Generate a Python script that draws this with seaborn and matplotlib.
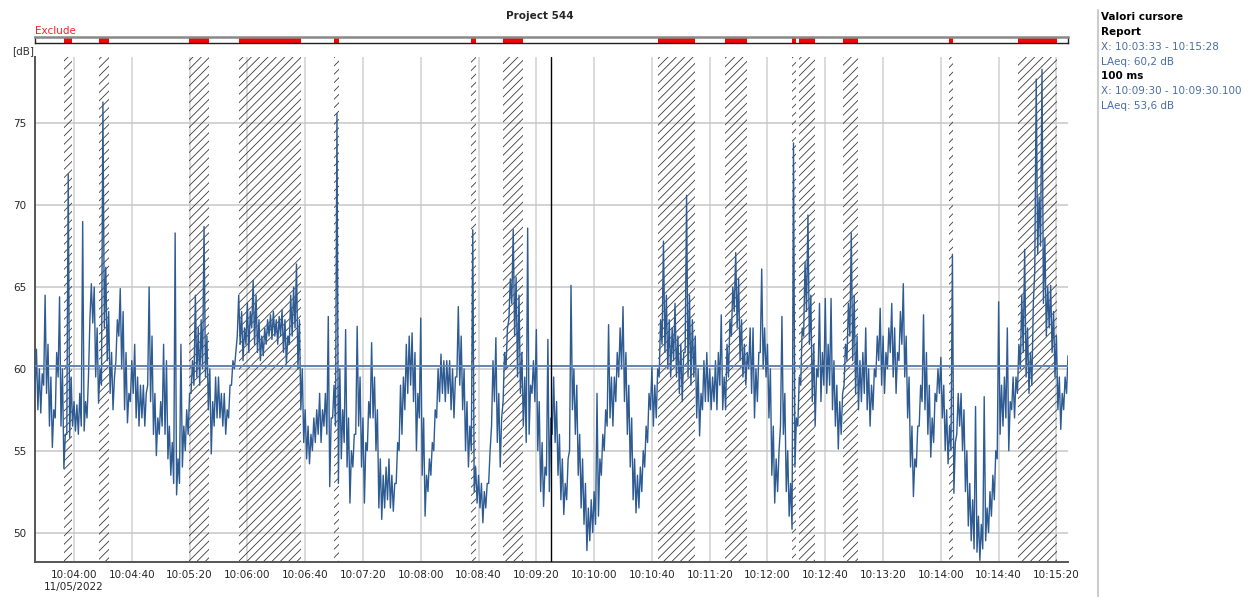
import numpy as np
import pandas as pd
import matplotlib
matplotlib.use("Agg")
import matplotlib.pyplot as plt
import seaborn as sns

# LAeq 100 ms trace, read off the chart as a low/high envelope every 2 s
# (seconds counted from 10:03:33)
sample_step = 2

lo_a = [58.5, 57.5, 57.3, 59.0, 58.5, 56.5, 55.2, 57.0, 59.5, 56.5,
        53.9, 56.0, 55.8, 56.5, 56.2, 56.0, 56.5, 56.2, 57.0, 63.0,
        62.8, 59.5, 57.9, 59.0, 62.5, 60.5, 58.5, 57.5, 60.5, 62.0,
        60.0, 57.5, 56.7, 58.0, 58.5, 57.0, 56.5, 57.0, 56.5, 59.0,
        58.0, 56.0, 54.7, 56.0, 56.5, 56.0, 54.5, 53.5, 53.0, 52.3,
        53.0, 54.0, 55.0, 56.0, 58.5, 59.0, 59.5, 59.0, 60.0, 59.5,
        57.5, 54.8, 56.5, 57.0, 57.0, 56.5, 56.0, 57.0, 59.0, 60.0,
        62.0, 61.5, 60.5]
hi_a = [61.2, 60.0, 59.7, 64.5, 61.5, 59.5, 57.5, 61.0, 64.4, 60.0,
        56.0, 71.9, 59.5, 58.0, 57.8, 58.5, 69.0, 58.0, 59.5, 65.2,
        65.0, 62.5, 60.0, 76.3, 66.2, 63.5, 61.0, 59.5, 63.0, 64.9,
        63.5, 61.0, 58.5, 60.5, 61.5, 59.5, 59.0, 59.0, 58.5, 65.0,
        62.0, 58.5, 57.0, 58.0, 61.5, 60.5, 56.5, 55.5, 68.3, 54.5,
        61.5, 56.5, 57.5, 58.5, 60.5, 64.5, 62.5, 63.0, 68.7, 62.0,
        60.0, 58.0, 59.5, 59.5, 58.5, 58.5, 57.5, 59.0, 60.5, 61.0,
        64.5, 63.5, 62.5]

lo_b = [61.5, 61.0, 62.5, 61.5, 61.0, 60.5, 60.8, 61.5, 62.0, 61.8,
        62.0, 61.5, 62.0, 61.0, 60.3, 61.5, 62.0, 62.5, 60.0, 57.5,
        55.5, 54.5, 54.2, 55.0, 55.5, 56.0, 55.5, 56.5, 56.0, 52.8,
        57.0, 56.5, 53.0, 54.5, 55.5, 54.0, 51.8, 54.0, 56.0, 56.5,
        54.0, 51.8, 55.0, 57.0, 57.0, 55.0, 51.5, 50.8, 51.5, 52.0,
        51.5, 51.3, 53.0, 55.0, 56.0, 57.5, 58.5, 59.0, 58.0, 55.0,
        57.0, 53.5, 51.0, 52.5, 53.5, 55.0, 57.0, 58.0, 58.5, 58.0,
        58.5]
hi_b = [64.0, 63.5, 65.4, 64.5, 63.0, 62.0, 62.5, 63.0, 63.3, 63.5,
        63.0, 63.2, 63.6, 63.0, 62.0, 64.5, 65.0, 66.4, 63.0, 60.0,
        57.5, 56.5, 56.0, 57.0, 57.5, 58.5, 57.5, 58.5, 63.2, 57.0,
        59.0, 75.6, 60.0, 57.5, 62.4, 57.0, 55.0, 56.0, 62.6, 59.5,
        57.0, 55.5, 58.0, 61.6, 59.5, 57.5, 54.5, 53.5, 54.0, 54.5,
        53.5, 53.0, 55.5, 59.0, 59.5, 61.5, 62.0, 62.2, 61.0, 58.5,
        63.1, 57.0, 53.5, 54.5, 55.5, 57.5, 60.0, 60.9, 60.5, 60.5,
        60.5]

lo_c = [57.5, 57.0, 59.5, 59.0, 57.5, 55.0, 54.0, 55.0, 52.5, 51.8,
        51.5, 50.6, 51.5, 53.0, 56.5, 58.0, 55.5, 54.0, 58.0, 60.0,
        63.0, 64.0, 62.0, 59.5, 58.5, 56.5, 55.5, 56.0, 58.5, 58.0,
        55.0, 52.5, 51.6, 53.5, 52.5, 56.0, 55.5, 53.5, 52.0, 51.1,
        52.0, 55.0, 57.5, 56.0, 53.5, 51.5, 50.5, 48.9, 49.5, 50.0,
        50.5, 51.0, 53.5, 55.0, 56.5, 57.0, 56.5, 58.0, 59.5, 60.0,
        58.0, 56.0, 54.0, 52.0, 51.2, 51.5, 52.5, 54.0, 55.5, 57.5,
        56.5]
hi_c = [60.0, 59.5, 63.8, 62.0, 60.0, 58.0, 56.5, 68.5, 54.0, 53.5,
        53.0, 52.5, 53.0, 55.0, 60.5, 61.9, 58.5, 57.0, 61.0, 62.5,
        65.5, 68.5, 65.6, 64.5, 61.0, 59.5, 68.6, 59.0, 60.5, 62.4,
        58.0, 55.5, 54.0, 61.8, 57.0, 59.5, 58.0, 56.0, 54.5, 53.0,
        54.5, 65.1, 60.0, 59.0, 56.0, 54.5, 53.0, 51.5, 52.0, 52.5,
        58.5, 54.5, 56.0, 57.5, 62.7, 59.5, 59.5, 61.0, 62.5, 63.8,
        61.0, 59.0, 57.0, 54.5, 53.5, 54.0, 55.0, 56.5, 58.5, 60.1,
        59.0]

lo_d = [57.0, 59.5, 61.5, 61.0, 60.0, 59.5, 60.5, 59.5, 58.5, 58.0,
        61.0, 59.5, 59.0, 59.5, 57.0, 55.9, 57.5, 58.0, 58.0, 57.5,
        58.0, 57.5, 59.0, 57.5, 57.5, 59.5, 62.0, 63.5, 62.5, 60.5,
        59.5, 59.0, 60.0, 58.5, 57.0, 58.0, 61.0, 60.0, 59.5, 57.0,
        53.5, 51.8, 52.5, 56.5, 56.0, 52.5, 51.0, 50.2, 54.0, 56.5,
        59.0, 62.0, 63.5, 61.5, 58.0, 56.5, 59.5, 58.0, 59.0, 58.5,
        59.0, 57.5, 56.5, 55.1, 56.0, 59.0, 60.5, 62.0, 60.5, 58.5,
        57.5]
hi_d = [60.0, 63.0, 67.8, 64.5, 63.0, 62.5, 64.0, 62.0, 61.5, 61.0,
        70.6, 64.5, 63.0, 62.0, 60.0, 58.5, 60.5, 61.0, 60.0, 59.5,
        60.5, 61.0, 63.3, 59.5, 61.5, 63.0, 65.0, 67.1, 65.5, 63.0,
        61.5, 61.0, 62.5, 62.5, 60.0, 61.0, 66.1, 62.5, 61.5, 60.0,
        56.5, 54.5, 55.0, 63.2, 58.5, 55.0, 53.0, 73.8, 57.0, 59.5,
        62.5, 66.5, 69.4, 64.5, 61.5, 60.0, 64.0, 61.0, 64.3, 61.5,
        64.3, 60.5, 59.0, 58.0, 58.5, 61.5, 64.0, 68.3, 64.5, 62.0,
        60.5]

lo_e = [58.0, 58.5, 57.5, 56.5, 57.5, 59.5, 60.5, 59.0, 58.5, 60.0,
        61.0, 59.5, 58.5, 60.5, 61.5, 59.5, 57.0, 54.0, 52.2, 54.0,
        56.5, 58.0, 57.5, 56.0, 54.6, 55.5, 58.0, 58.5, 57.0, 55.0,
        54.2, 55.0, 52.4, 56.0, 56.5, 55.0, 52.5, 50.4, 49.5, 49.0,
        48.8, 48.3, 49.0, 49.5, 50.0, 51.0, 52.0, 54.5, 56.0, 56.5,
        57.0, 55.0, 57.5, 57.0, 58.5, 60.0, 61.0, 59.5, 58.5, 59.0,
        66.0, 67.0, 67.5, 64.0, 62.0, 62.5, 61.0, 59.5, 57.5, 56.3,
        57.5, 58.5]
hi_e = [61.0, 62.5, 60.0, 59.0, 60.0, 62.0, 63.7, 62.0, 61.0, 62.5,
        64.0, 62.5, 61.0, 63.5, 65.2, 62.0, 59.5, 56.5, 54.5, 56.5,
        59.0, 63.3, 61.0, 59.0, 57.0, 58.5, 60.0, 60.7, 59.0, 57.5,
        56.5, 67.0, 55.5, 58.5, 58.5, 57.5, 55.0, 53.0, 52.0, 57.7,
        51.0, 50.5, 58.3, 51.5, 52.5, 53.5, 55.0, 64.1, 59.0, 59.5,
        62.5, 58.0, 59.5, 59.5, 61.5, 64.5, 67.3, 62.5, 61.0, 64.0,
        77.7, 70.5, 78.3, 68.0, 65.0, 65.1, 63.5, 62.0, 59.5, 58.5,
        59.5, 60.8]

# excluded intervals (s from 10:03:33)
exclude_start = [20.0, 44.5, 106.7, 140.9, 206.8, 301.6, 323.9, 431.1,
                 477.8, 524.1, 528.7, 559.1, 632.9, 680.2]
exclude_end = [25.4, 51.4, 120.6, 184.0, 210.5, 305.5, 337.8, 456.5,
               493.0, 526.4, 539.6, 569.5, 635.2, 707.4]

laeq_total = 60.2
cursor_t = 357.0  # 10:09:30

tick_t = [27 + 40 * k for k in range(18)]
tick_labels = ["10:04:00\n11/05/2022", "10:04:40", "10:05:20", "10:06:00",
               "10:06:40", "10:07:20", "10:08:00", "10:08:40", "10:09:20",
               "10:10:00", "10:10:40", "10:11:20", "10:12:00", "10:12:40",
               "10:13:20", "10:14:00", "10:14:40", "10:15:20"]
y_ticks = [50, 55, 60, 65, 70, 75]

lo = np.array(lo_a + lo_b + lo_c + lo_d + lo_e)
hi = np.array(hi_a + hi_b + hi_c + hi_d + hi_e)
assert len(lo) == len(hi)
t0 = np.arange(len(lo)) * sample_step
trace = pd.DataFrame({
    "t": np.ravel(np.column_stack([t0, t0 + sample_step / 2])),
    "db": np.ravel(np.column_stack([lo, hi])),
})

sns.set_style("white")
plt.rcParams['font.family'] = ['DejaVu Sans']
plt.rcParams['hatch.linewidth'] = 0.6

fig = plt.figure(figsize=(12.6, 5.97), dpi=100)
W, H = 1260, 597
ax = fig.add_axes([35 / W, 1 - 562 / H, (1068 - 35) / W, (562 - 57) / H])
bar_ax = fig.add_axes([35 / W, 1 - 43 / H, (1068 - 35) / W, 6 / H])

# hatched excluded zones
for s, e in zip(exclude_start, exclude_end):
    ax.axvspan(s, e, facecolor="none", edgecolor="#3a3a3a", hatch="////",
               linewidth=0, zorder=1)
    bar_ax.axvspan(s, e, color="#ff0000", linewidth=0)

sns.lineplot(data=trace, x="t", y="db", ax=ax, color="#2e5b92",
             linewidth=1.0, estimator=None, sort=False, zorder=3)

ax.axhline(laeq_total, color="#6283b3", linewidth=1.4, zorder=4)
ax.axvline(cursor_t, color="black", linewidth=1.0, zorder=5)

ax.set_xlim(0, 715)
ax.set_ylim(48.2, 79.05)
ax.set_xticks(tick_t)
ax.set_xticklabels(tick_labels, fontsize=7.5)
ax.set_xticks(np.arange(7, 715, 10), minor=True)
ax.set_yticks(y_ticks)
ax.set_yticklabels([str(v) for v in y_ticks], fontsize=7.5)
ax.set_xlabel("")
ax.set_ylabel("")
ax.tick_params(axis="both", which="major", direction="out", length=4,
               width=1, color="#444444", pad=2)
ax.tick_params(axis="x", which="minor", direction="out", length=2.5,
               width=1, color="#444444")
ax.grid(axis="x", which="major", color="#dadada", linewidth=1.4)
ax.grid(axis="y", which="major", color="#c8c8c8", linewidth=1.1)
ax.set_axisbelow(True)
for side in ["top", "right"]:
    ax.spines[side].set_visible(False)
for side in ["left", "bottom"]:
    ax.spines[side].set_color("#555555")
    ax.spines[side].set_linewidth(1.4)

bar_ax.set_xlim(0, 715)
bar_ax.set_ylim(0, 1)
bar_ax.set_xticks([])
bar_ax.set_yticks([])
bar_ax.spines["top"].set_color("#888888")
bar_ax.spines["top"].set_linewidth(1.8)
for side in ["left", "right", "bottom"]:
    bar_ax.spines[side].set_color("#222222")
    bar_ax.spines[side].set_linewidth(1.0)

fig.text(35 / W, 1 - 31 / H, "Exclude", color="#ff2020", fontsize=7.5,
         ha="left", va="center")
fig.text(540 / W, 1 - 16 / H, "Project 544", fontsize=7.5,
         fontweight="bold", ha="center", va="center")
fig.text(12 / W, 1 - 51 / H, "[dB]", fontsize=7.5, ha="left",
         va="center", color="#333333")

# cursor values panel
fig.add_artist(plt.Line2D([1098 / W, 1098 / W], [1 - 10 / H, 1 - 597 / H],
                          color="#cccccc", linewidth=1.5))
panel_lines = [("Valori cursore", True), ("Report", True),
               ("X: 10:03:33 - 10:15:28", False), ("LAeq: 60,2 dB", False),
               ("100 ms", True), ("X: 10:09:30 - 10:09:30.100", False),
               ("LAeq: 53,6 dB", False)]
for i, (txt, bold) in enumerate(panel_lines):
    fig.text(1101 / W, 1 - (17.3 + 14.75 * i) / H, txt, fontsize=7.5,
             fontweight="bold" if bold else "normal",
             color="black" if bold else "#4a6fa5", ha="left", va="center")

fig.savefig("out.png", dpi=100)
